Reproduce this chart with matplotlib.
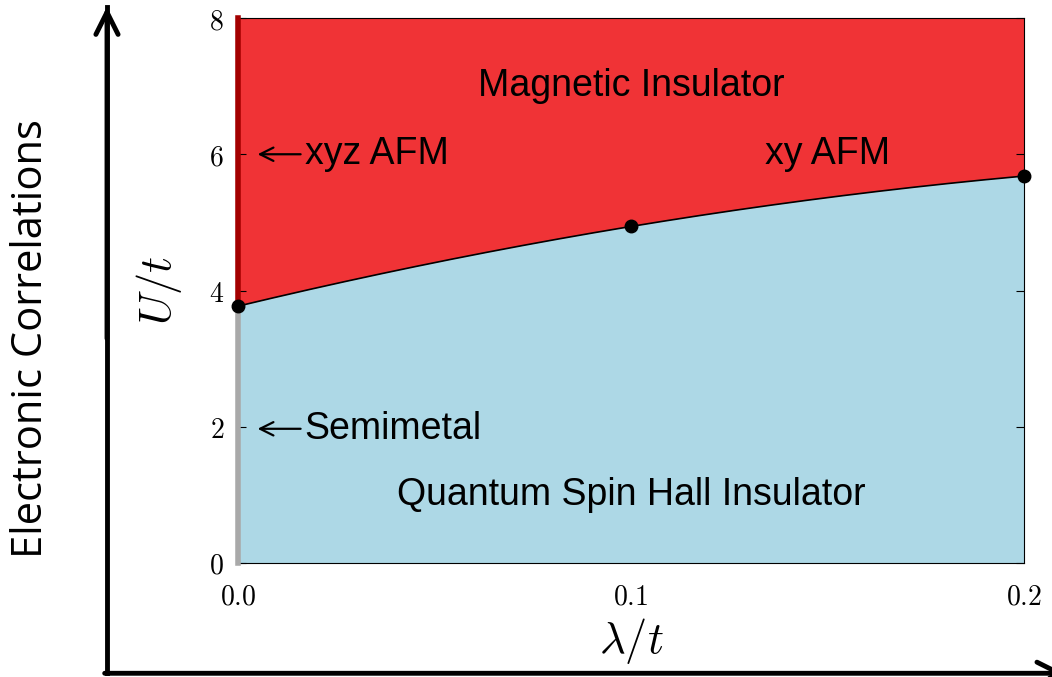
import numpy as np
import matplotlib.pyplot as plt

plt.rcParams['mathtext.fontset'] = 'cm'

# phase boundary points (lambda/t, U/t)
lam_pts = [0.0, 0.1, 0.2]
u_pts = [3.77, 4.94, 5.68]
x_ticks = [0.0, 0.1, 0.2]
x_ticklabels = ['0.0', '0.1', '0.2']
y_ticks = [0, 2, 4, 6, 8]
u_max = 8

# smooth boundary through the three points
coef = np.polyfit(lam_pts, u_pts, 2)
lam = np.linspace(0, 0.2, 200)
u_c = np.polyval(coef, lam)

fig = plt.figure(figsize=(10.52, 6.77), dpi=100)
ax = fig.add_axes([0.2262, 0.1684, 0.7472, 0.805])

ax.fill_between(lam, u_c, u_max, color='#f03336', lw=0)
ax.fill_between(lam, 0, u_c, color='#add8e6', lw=0)
ax.plot(lam, u_c, color='black', lw=1.2)
ax.plot(lam_pts, u_pts, 'o', color='black', ms=9, clip_on=False, zorder=5)

# left edge: xyz AFM and semimetal lines
ax.plot([0, 0], [u_pts[0], u_max], color='#a30000', lw=4, clip_on=False, zorder=4)
ax.plot([0, 0], [0, u_pts[0]], color='#a9a9a9', lw=4, clip_on=False, zorder=4)

ax.set_xlim(0, 0.2)
ax.set_ylim(0, u_max)
ax.set_xticks(x_ticks)
ax.set_yticks(y_ticks)
ax.tick_params(axis='y', direction='in', right=True, length=6, labelsize=20, pad=10)
ax.tick_params(axis='x', length=0, labelsize=20, pad=14)
ax.set_xticklabels(['$' + s + '$' for s in x_ticklabels])
ax.set_yticklabels(['$%d$' % v for v in y_ticks])

ax.set_xlabel(r'$\lambda/t$', fontsize=32, labelpad=4)
ax.set_ylabel(r'$U/t$', fontsize=32, labelpad=18)

txt = dict(family='Liberation Sans', fontsize=27, color='black')
ax.text(0.1, 7.0, 'Magnetic Insulator', ha='center', va='center', **txt)
ax.text(0.15, 6.0, 'xy AFM', ha='center', va='center', **txt)
ax.text(0.1, 1.0, 'Quantum Spin Hall Insulator', ha='center', va='center', **txt)
arr = dict(arrowstyle='->', lw=1.6, color='black', mutation_scale=24, shrinkA=1, shrinkB=0)
ax.annotate('xyz AFM', xy=(0.005, 6.0), xytext=(0.017, 6.0), ha='left', va='center',
            arrowprops=arr, **txt)
ax.annotate('Semimetal', xy=(0.005, 1.97), xytext=(0.017, 1.97), ha='left', va='center',
            arrowprops=arr, **txt)

# big outer arrows
big = dict(arrowstyle='->', lw=3.5, color='black', mutation_scale=40, shrinkA=0, shrinkB=0)
fig.add_artist(plt.Line2D([0.1017, 0.1017], [0.0055, 0.99], color='black', lw=3.5))
ax.annotate('', xy=(0.1017, 0.99), xytext=(0.1017, 0.5), xycoords='figure fraction',
            textcoords='figure fraction', arrowprops=big)
ax.annotate('', xy=(1.012, 0.0055), xytext=(0.0995, 0.0055), xycoords='figure fraction',
            textcoords='figure fraction', arrowprops=big)

fig.text(0.029, 0.50, 'Electronic Correlations', rotation=90, ha='center', va='center',
         family='Open Sans', fontsize=30)

fig.savefig('out.png', dpi=100)
